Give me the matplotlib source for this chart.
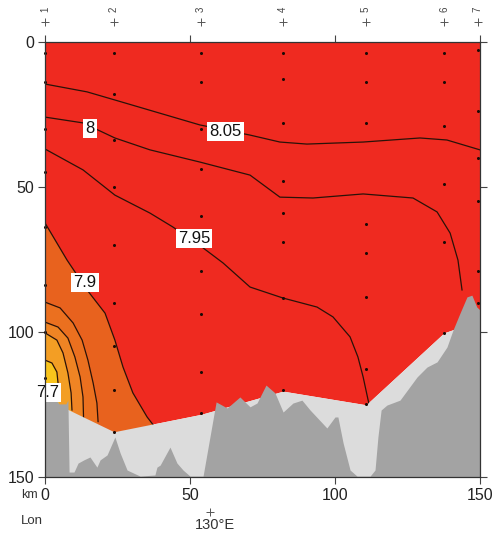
import numpy as np
import matplotlib
matplotlib.use("Agg")
import matplotlib.pyplot as plt
from matplotlib.transforms import blended_transform_factory

plt.rcParams['font.family'] = ['Liberation Sans', 'DejaVu Sans']

# stations along the section (km) and their names
station_km = [0, 23.8, 53.8, 82.1, 110.7, 137.6, 149.3]
station_names = ['1', '2', '3', '4', '5', '6', '7']

# sample depths at each station (m)
sample_depths = [
    [4, 14, 30, 45, 64, 84, 100, 116],
    [4, 18, 34, 50, 70, 90, 105, 120, 134.5],
    [4, 14, 30, 44, 60, 79, 94, 114, 128],
    [4, 13, 28, 48, 59, 69, 88.5, 120],
    [4, 14, 28, 63, 73, 88, 113, 125],
    [4, 14, 29, 49, 69, 100.4],
    [3, 24, 40, 55, 79, 90],
]

# lower edge of the data coverage (deepest samples)
bound_km = [0, 23.8, 53.8, 82.1, 110.7, 137.6, 150]
bound_depth = [123, 134.5, 128.5, 120.5, 125.2, 100.4, 96]

# isolines of the field
iso_805_km = [0, 14.5, 24.1, 53.4, 70.7, 81, 90.3, 109.7, 129.3, 138.6, 150]
iso_805_d = [14.6, 17.3, 20.1, 28.7, 32.2, 34.6, 35.3, 34.6, 33.2, 33.9, 37.3]

iso_800_km = [0, 13.1, 24.1, 36.2, 53.4, 70.7, 81, 92.4, 109.7, 126.9, 135.2, 139.7, 142.4, 143.8]
iso_800_d = [26, 28, 33.2, 37.3, 41.5, 46, 53.6, 53.9, 52.5, 53.9, 58.7, 66, 75.3, 85.6]

iso_795_km = [0, 13.1, 24.1, 36.2, 44.1, 54.1, 61.4, 70.7, 82.1, 93.8, 99.3, 105.2, 107.9, 109.7, 111.4, 112.4]
iso_795_d = [37, 44.2, 52.9, 59.1, 63.9, 70.8, 76.3, 84.6, 88.4, 91.5, 94.9, 101.8, 108.7, 115.6, 123.5, 128]

iso_790_km = [0, 7.6, 14.5, 20.7, 24.1, 26.9, 30.3, 35.2, 37.9, 40.3]
iso_790_d = [62.5, 75.3, 85.6, 93.6, 102.9, 112.2, 121.1, 129.4, 132.9, 136.3]

iso_785_km = [0, 5.2, 9.7, 12.8, 14.8, 16.6, 17.9, 18.3]
iso_785_d = [89.8, 91.8, 97, 102.9, 109.8, 117.7, 124.6, 131]

iso_780_km = [0, 4.5, 7.9, 10.3, 12.1, 13.1, 13.3]
iso_780_d = [96.7, 98.4, 102.2, 108.7, 115.6, 122.5, 130]

iso_775_km = [0, 4.1, 6.2, 7.9, 9.0, 9.3]
iso_775_d = [100.4, 102.9, 107.3, 114.2, 121.1, 127]

iso_770_km = [0, 2.4, 4.1, 4.5, 4.8]
iso_770_d = [109.8, 110.8, 113.9, 117.7, 124]

# bottom topography
bathy_km = [0, 3.8, 4.8, 7.2, 7.9, 8.3, 10.0, 11.4, 13.4, 15.5, 17.9, 19.0, 21.4, 24.1,
            25.9, 28.3, 32.8, 37.9, 38.6, 39.7, 43.1, 45.5, 47.6, 50.0, 54.5, 59.0,
            62.8, 67.2, 70.7, 73.1, 76.2, 79.3, 82.1, 85.5, 88.6, 91.4, 97.2, 100.0,
            101.0, 102.8, 105.2, 107.6, 112.1, 113.8, 114.8, 115.9, 117.9, 122.4,
            128.3, 131.7, 135.2, 138.6, 140.7, 143.1, 145.5, 147.2, 148.9, 150.0]
bathy_depth = [123.6, 123.2, 124.9, 124.9, 123.6, 148.4, 148.4, 145.3, 144.2, 143.2, 146.7,
               144.2, 142.5, 136.3, 141.8, 147.7, 149.8, 149.4, 146.7, 146.0, 139.8, 145.3,
               147.7, 149.8, 149.8, 124.2, 126.3, 122.5, 125.9, 124.6, 118.4, 121.1, 127.7,
               124.6, 123.6, 127.0, 133.2, 129.4, 129.4, 138.4, 147.7, 149.8, 149.8, 147.7,
               136.3, 127.0, 125.3, 123.6, 115.6, 112.2, 110.4, 105.3, 99.4, 93.6, 88.0,
               87.4, 91.5, 92.5]

# contour labels
label_text = ['8', '8.05', '7.95', '7.9', '7.7']
label_km = [15.5, 62.2, 51.4, 13.8, 1.0]
label_depth = [29.9, 31.1, 67.8, 83.0, 120.8]

red = '#ef2a20'
orange_fills = [
    (iso_790_km, iso_790_d, '#e8621e'),
    (iso_785_km, iso_785_d, '#eb701f'),
    (iso_780_km, iso_780_d, '#ef8424'),
    (iso_775_km, iso_775_d, '#f39e24'),
    (iso_770_km, iso_770_d, '#f8c41c'),
]
isolines = [
    (iso_805_km, iso_805_d), (iso_800_km, iso_800_d), (iso_795_km, iso_795_d),
    (iso_790_km, iso_790_d), (iso_785_km, iso_785_d), (iso_780_km, iso_780_d),
    (iso_775_km, iso_775_d), (iso_770_km, iso_770_d),
]

fig = plt.figure(figsize=(4.93, 5.39), dpi=100)
ax = fig.add_axes([45 / 493, 1 - 476.7 / 539, 435 / 493, 435 / 539])

# data field
ax.fill_between(bound_km, 0, bound_depth, color=red, lw=0, zorder=1)
for km, d, c in orange_fills:
    ax.fill(list(km) + [km[-1], 0], list(d) + [150, 150], color=c, lw=0, zorder=1.5)
for km, d in isolines:
    ax.plot(km, d, color='#2a1208', lw=0.9, zorder=2)

# no-data area and topography
ax.fill_between(bound_km, bound_depth, 150, color='#dcdcdc', lw=0, zorder=3)
ax.fill_between(bathy_km, bathy_depth, 150, color='#a3a3a3', lw=0, zorder=4)

# sample dots
for km, depths in zip(station_km, sample_depths):
    ax.plot([km] * len(depths), depths, 'o', ms=2.2, color='#1a0a05', mec='none',
            clip_on=False, zorder=5)

for t, x, y in zip(label_text, label_km, label_depth):
    ax.text(x, y, t, fontsize=12, ha='center', va='center', color='#111',
            bbox=dict(boxstyle='square,pad=0.12', fc='white', ec='none'),
            clip_on=False, zorder=6)

ax.set_xlim(0, 150)
ax.set_ylim(150, 0)
ax.set_xticks([0, 50, 100, 150])
ax.set_yticks([0, 50, 100, 150])
ax.tick_params(direction='out', length=5, width=0.8, color='#444', labelsize=11.5,
               labelcolor='#222', top=True, right=True, pad=3)
for s in ax.spines.values():
    s.set_color('#333')
    s.set_linewidth(0.9)
    s.set_zorder(7)

# station markers along the top
trans = blended_transform_factory(ax.transData, ax.transAxes)
ax.plot(station_km, [1.045] * len(station_km), '+', ms=6, mew=0.7, color='#555',
        transform=trans, clip_on=False)
for km, name in zip(station_km, station_names):
    ax.text(km, 1.075, name, rotation=90, fontsize=7, color='#444', ha='center',
            va='center', transform=trans, clip_on=False)

# longitude marker
ax.plot([56.9], [-0.081], '+', ms=6, mew=0.7, color='#555', transform=trans, clip_on=False)
ax.text(58.5, -0.111, '130°E', fontsize=10.5, color='#333', ha='center', va='center',
        transform=trans, clip_on=False)
ax.text(-0.035, -0.042, 'km', fontsize=9, color='#333', ha='center', va='center',
        transform=ax.transAxes)
ax.text(-0.03, -0.101, 'Lon', fontsize=9.5, color='#333', ha='center', va='center',
        transform=ax.transAxes)

fig.savefig('out.png', dpi=100)
